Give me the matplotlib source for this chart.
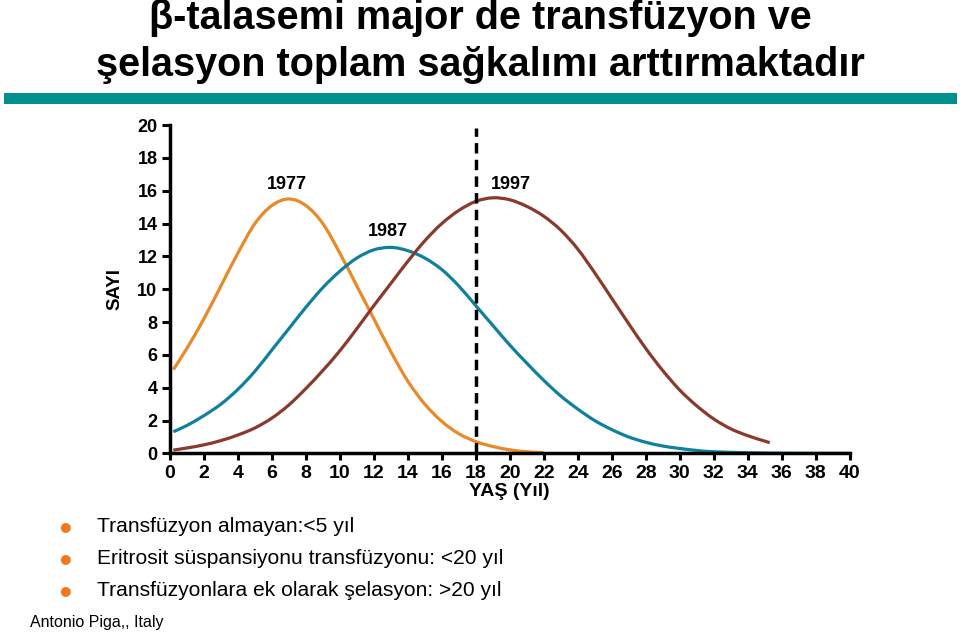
import numpy as np
import matplotlib.pyplot as plt
from matplotlib.patches import Rectangle, PathPatch
from matplotlib.path import Path

plt.rcParams['font.family'] = ['Liberation Sans', 'DejaVu Sans']

# values
yas_1977 = [0.2, 1, 2, 3, 4, 5, 6, 7, 8, 9, 10, 11, 12, 13, 14, 15, 16, 17, 18, 19, 20, 21, 22]
sayi_1977 = [5.1, 6.4, 8.2, 10.2, 12.2, 14.0, 15.1, 15.5, 15.1, 14.0, 12.2, 10.2, 8.2, 6.2, 4.4, 3.0, 1.95, 1.2, 0.72, 0.42, 0.22, 0.1, 0.04]

yas_1987 = [0.2, 1, 2, 3, 4, 5, 6, 7, 8, 9, 10, 11, 12, 13, 14, 15, 16, 17, 18, 19, 20,
            21, 22, 23, 24, 25, 26, 27, 28, 29, 30, 31, 32, 34, 36, 38, 40]
sayi_1987 = [1.32, 1.7, 2.3, 3.0, 3.9, 5.0, 6.3, 7.6, 8.9, 10.1, 11.1, 11.9, 12.4, 12.55, 12.35, 11.9, 11.2, 10.2, 9.0, 7.8, 6.6,
             5.5, 4.45, 3.5, 2.7, 2.0, 1.45, 1.0, 0.68, 0.45, 0.3, 0.18, 0.1, 0.04, 0.01, 0.0, 0.0]

yas_1997 = [0.2, 1, 2, 3, 4, 5, 6, 7, 8, 9, 10, 11, 12, 13, 14, 15, 16, 17, 18, 19, 20,
            21, 22, 23, 24, 25, 26, 27, 28, 29, 30, 31, 32, 33, 34, 35, 35.3]
sayi_1997 = [0.2, 0.33, 0.52, 0.78, 1.12, 1.55, 2.15, 2.95, 3.95, 5.05, 6.25, 7.6, 9.0, 10.35, 11.7, 12.95, 14.0, 14.8, 15.35, 15.57, 15.45,
             15.05, 14.45, 13.6, 12.45, 11.0, 9.45, 7.9, 6.4, 5.05, 3.86, 2.9, 2.1, 1.5, 1.08, 0.75, 0.65]

etiketler = ['1977', '1987', '1997']
etiket_x = [6.9, 12.8, 20.05]
etiket_y = [16.4, 13.5, 16.4]

maddeler = ['Transfüzyon almayan:<5 yıl',
            'Eritrosit süspansiyonu transfüzyonu: <20 yıl',
            'Transfüzyonlara ek olarak şelasyon: >20 yıl']

turuncu = '#e8892a'
mavi = '#10809c'
kahve = '#8a3a2c'


def yumusak_yol(xs, ys):
    # smooth bezier path through the read points (catmull-rom style control points)
    p = np.column_stack([xs, ys]).astype(float)
    verts = [p[0]]
    codes = [Path.MOVETO]
    n = len(p)
    for i in range(n - 1):
        p0 = p[i - 1] if i > 0 else p[i]
        p3 = p[i + 2] if i + 2 < n else p[i + 1]
        c1 = p[i] + (p[i + 1] - p0) / 6
        c2 = p[i + 1] - (p3 - p[i]) / 6
        verts += [c1, c2, p[i + 1]]
        codes += [Path.CURVE4] * 3
    return Path(verts, codes)


fig = plt.figure(figsize=(9.6, 6.35), dpi=100)

# title
fig.text(0.5, 0.972, 'β-talasemi major de transfüzyon ve', ha='center', va='center',
         fontsize=28.5, fontweight='bold')
fig.text(0.5, 0.897, 'şelasyon toplam sağkalımı arttırmaktadır', ha='center', va='center',
         fontsize=28.5, fontweight='bold')
fig.patches.append(Rectangle((0.004, 0.836), 0.993, 0.018, transform=fig.transFigure,
                             facecolor='#00918f', edgecolor='none'))

ax = fig.add_axes([0.177, 0.286, 0.708, 0.517])
for xs, ys, c in [(yas_1977, sayi_1977, turuncu), (yas_1987, sayi_1987, mavi), (yas_1997, sayi_1997, kahve)]:
    ax.add_patch(PathPatch(yumusak_yol(xs, ys), facecolor='none', edgecolor=c, lw=2.3,
                           capstyle='butt'))
ax.plot([18, 18], [0, 19.8], color='black', lw=2.5, ls=(0, (3, 1.8)))

for t, x, y in zip(etiketler, etiket_x, etiket_y):
    ax.text(x, y, t, ha='center', va='center', fontsize=13, fontweight='bold')

ax.set_xlim(0, 40)
ax.set_ylim(0, 20)
ax.set_xticks(range(0, 41, 2))
ax.set_yticks(range(0, 21, 2))
for s in ['top', 'right']:
    ax.spines[s].set_visible(False)
for s in ['left', 'bottom']:
    ax.spines[s].set_linewidth(2.5)
ax.tick_params(axis='x', width=2.2, length=5, labelsize=14, pad=3)
ax.tick_params(axis='y', width=2.2, length=6, labelsize=13, pad=3)
for lab in ax.get_xticklabels() + ax.get_yticklabels():
    lab.set_fontweight('bold')
ax.set_xlabel('YAŞ (Yıl)', fontsize=14, fontweight='bold', labelpad=1)
ax.set_ylabel('SAYI', fontsize=13.5, fontweight='bold', labelpad=10)
ax.patch.set_alpha(0)

for i, m in enumerate(maddeler):
    yy = 1 - (527 + 32 * i) / 635
    fig.text(0.068, yy, '●', ha='center', va='center', fontsize=9.5, color='#f07a20',
             family=['DejaVu Sans'])
    fig.text(0.101, yy, m, ha='left', va='center', fontsize=15.1)

fig.text(0.031, 1 - 623 / 635, 'Antonio Piga,, Italy', ha='left', va='center', fontsize=11.5)

fig.savefig('out.png', dpi=100)
